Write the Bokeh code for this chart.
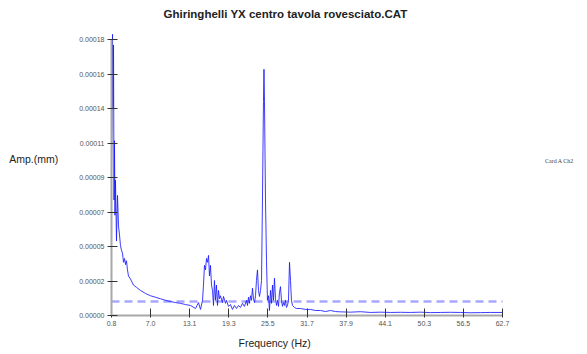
import numpy as np
from bokeh.plotting import figure
from bokeh.models import Range1d, FixedTicker, Legend, LegendItem, Title, Label
from bokeh.embed import file_html
from bokeh.resources import INLINE

# ---- data ----
title_text = "Ghiringhelli YX centro tavola rovesciato.CAT"
x_label = "Frequency (Hz)"
y_label = "Amp.(mm)"
series_name = "Card A Ch2"

x_min, x_max = 0.8, 62.7
y_min, y_max = 0.0, 0.0001816

x_tick_labels = ["0.8", "7.0", "13.1", "19.3", "25.5", "31.7", "37.9", "44.1", "50.3", "56.5", "62.7"]
y_tick_labels = ["0.00000", "0.00002", "0.00005", "0.00007", "0.00009",
                 "0.00011", "0.00014", "0.00016", "0.00018"]

freq_hz = [0.80, 0.88, 0.96, 1.04, 1.12, 1.20, 1.27, 1.35, 1.43, 1.59, 1.75, 1.91, 2.07, 2.22,
           2.38, 2.54, 2.70, 2.86, 3.02, 3.17, 3.33, 3.49, 3.81, 4.28, 4.76, 5.39, 6.18, 6.97,
           7.77, 8.56, 9.35, 10.14, 10.93, 11.72, 12.51, 13.31, 14.10, 14.57, 14.89, 15.21,
           15.36, 15.52, 15.68, 15.84, 16.00, 16.16, 16.31, 16.47, 16.63, 16.79, 16.95, 17.10,
           17.26, 17.42, 17.58, 17.74, 17.90, 18.05, 18.37, 18.53, 18.85, 19.00, 19.32, 19.64,
           19.95, 20.27, 20.59, 20.90, 21.22, 21.54, 21.85, 22.17, 22.33, 22.49, 22.65, 22.80,
           22.96, 23.12, 23.28, 23.44, 23.60, 23.75, 23.91, 24.07, 24.23, 24.39, 24.55, 24.70,
           24.86, 24.94, 25.02, 25.18, 25.34, 25.49, 25.65, 25.81, 25.97, 26.13, 26.29, 26.44,
           26.60, 26.76, 26.92, 27.08, 27.24, 27.39, 27.55, 27.71, 27.87, 28.03, 28.19, 28.34,
           28.50, 28.66, 28.82, 28.98, 29.14, 29.29, 29.45, 29.77, 30.09, 30.72, 31.51, 32.30,
           33.09, 33.88, 34.68, 35.47, 36.26, 37.05, 38.63, 40.22, 41.80, 43.38, 44.97, 46.55,
           48.13, 49.71, 51.30, 52.88, 54.46, 56.05, 57.63, 59.21, 60.80, 62.70]

# amplitude in units of 1e-5 mm
amp_e5 = [9.0, 12.2, 18.5, 13.6, 17.8, 7.6, 11.5, 6.6, 8.9, 4.9, 7.9, 5.9, 5.3, 4.6,
          4.3, 4.1, 3.5, 3.75, 3.35, 3.6, 3.0, 2.6, 2.4, 2.0, 1.85, 1.65, 1.45, 1.3,
          1.2, 1.1, 1.0, 0.92, 0.85, 0.8, 0.72, 0.66, 0.46, 0.85, 0.4, 1.0,
          2.0, 3.3, 3.0, 3.75, 3.5, 3.95, 2.6, 3.3, 2.0, 1.65, 0.66, 2.3,
          1.0, 2.0, 0.66, 1.65, 1.1, 1.3, 0.85, 1.25, 0.8, 1.0, 0.6, 0.72,
          0.4, 0.66, 0.46, 0.66, 0.53, 0.8, 0.6, 1.0, 0.66, 1.2, 0.8, 1.3,
          1.0, 1.8, 1.1, 0.85, 1.3, 2.3, 3.0, 1.65, 1.25, 1.65, 2.3, 7.6,
          14.1, 16.2, 14.1, 7.6, 3.6, 1.0, 1.3, 0.33, 1.65, 0.8, 2.0, 1.0,
          2.45, 1.1, 0.66, 1.0, 0.6, 1.5, 1.9, 1.0, 0.6, 0.85, 0.66, 1.0,
          0.53, 0.66, 1.0, 3.5, 2.3, 1.0, 0.66, 0.53, 0.46, 0.46, 0.4, 0.4,
          0.33, 0.33, 0.26, 0.33, 0.26, 0.24, 0.22, 0.25, 0.2, 0.22, 0.2, 0.21,
          0.2, 0.22, 0.19, 0.2, 0.21, 0.2, 0.18, 0.19, 0.2, 0.2]

threshold_mm = 0.0000092

amp_mm = np.array(amp_e5) * 1e-5

# ---- layout (pixels) ----
W, H = 587, 354
left_px, top_px, bottom_px, right_px = 111, 2, 39, 7
axis_x_px, axis_y_px = 391, 276       # drawn axis lengths
frame_w = W - left_px - right_px
frame_h = H - top_px - bottom_px
x_view_end = x_min + (x_max - x_min) * frame_w / axis_x_px
y_view_end = y_min + (y_max - y_min) * frame_h / axis_y_px

p = figure(width=W, height=H, output_backend="svg", toolbar_location=None,
           x_range=Range1d(x_min, x_view_end), y_range=Range1d(y_min, y_view_end),
           min_border_left=left_px, min_border_right=right_px,
           min_border_top=top_px, min_border_bottom=bottom_px)
p.outline_line_color = None
p.xgrid.visible = False
p.ygrid.visible = False

x_ticks = list(np.linspace(x_min, x_max, len(x_tick_labels)))
y_ticks = list(np.linspace(y_min, y_max, len(y_tick_labels)))

for ax, ticks, labels in ((p.xaxis[0], x_ticks, x_tick_labels), (p.yaxis[0], y_ticks, y_tick_labels)):
    ax.ticker = FixedTicker(ticks=ticks)
    ax.major_label_overrides = {t: l for t, l in zip(ticks, labels)}
    ax.minor_tick_line_color = None
    ax.axis_line_color = "#a8a8a8"
    ax.axis_line_width = 2
    ax.major_tick_line_color = "#333333"
    ax.major_label_text_font = "Liberation Sans"
    ax.major_label_text_font_size = "7px"
    ax.major_label_text_color = "#555555"
    ax.major_label_standoff = 3

p.xaxis.bounds = (x_min, x_max)
p.yaxis.bounds = (y_min, y_max)
p.xaxis.major_tick_in = 7
p.xaxis.major_tick_out = 2
p.yaxis.major_tick_in = 6
p.yaxis.major_tick_out = 4

# y axis label, horizontal
p.yaxis.axis_label = y_label
p.yaxis.axis_label_orientation = "horizontal"
p.yaxis.axis_label_text_font = "Liberation Sans"
p.yaxis.axis_label_text_font_size = "10.5px"
p.yaxis.axis_label_text_font_style = "normal"
p.yaxis.axis_label_text_color = "#222222"
p.yaxis.axis_label_standoff = 18

# x label as a title below the axis
p.add_layout(Title(text=x_label, align="left", offset=127, standoff=12,
                   text_font="Liberation Sans", text_font_size="10.5px",
                   text_font_style="normal", text_color="#222222"), "below")

# chart title (inside the extended frame, above the axis top)
p.add_layout(Label(x=52, y=H - top_px - bottom_px - 11, x_units="screen", y_units="screen",
                   text=title_text, text_font="Liberation Sans", text_font_style="bold",
                   text_font_size="11.5px", text_color="#222222",
                   text_align="left", text_baseline="middle"))

# threshold dashed line
p.line([x_min, x_max], [threshold_mm, threshold_mm], line_color="#a8a8ff",
       line_width=2.5, line_dash="8 5")

# spectrum
p.line(freq_hz, amp_mm, line_color="#1a1aff", line_width=1, line_alpha=0.85)

# legend to the right of the axis end
dummy = p.line([], [], line_color="#7070ff", line_width=1.5)
legend = Legend(items=[LegendItem(label=series_name, renderers=[dummy])],
                location=(425, 150), padding=0, margin=0, spacing=0,
                glyph_width=6, glyph_height=8, label_standoff=3,
                label_text_font="Liberation Serif", label_text_font_size="6px",
                label_text_color="#444444", border_line_color=None,
                background_fill_alpha=0, label_height=8)
p.add_layout(legend, "center")

open("out.html", "w").write(file_html(p, INLINE))
